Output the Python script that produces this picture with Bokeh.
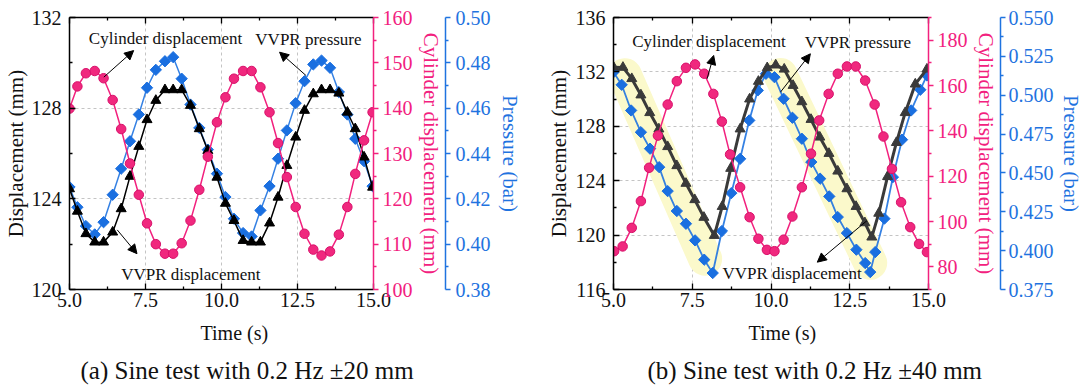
from bokeh.plotting import figure
from bokeh.models import Range1d, LinearAxis, FixedTicker, Label, Arrow, NormalHead, Title
from bokeh.layouts import row
from bokeh.embed import file_html
from bokeh.resources import INLINE

FONT = "Liberation Serif"
PINK = "#F2217E"
BLUE = "#1F73E0"
BAND = "#FBF9CB"

# ---------------- data: panel (a) 0.2 Hz +-20 mm ----------------
time_a = [5.00, 5.26, 5.54, 5.83, 6.12, 6.42, 6.70, 6.99, 7.28, 7.55, 7.84, 8.14,
          8.41, 8.69, 8.98, 9.27, 9.55, 9.85, 10.13, 10.41, 10.71, 10.99, 11.28, 11.58,
          11.86, 12.15, 12.44, 12.73, 13.02, 13.29, 13.57, 13.86, 14.14, 14.40, 14.69, 14.97]
cyl_a = [139.9, 144.8, 147.7, 148.2, 146.6, 141.8, 135.4, 127.8, 120.9, 114.6, 110.0, 107.9,
         107.9, 110.2, 115.2, 122.0, 129.3, 136.9, 142.4, 146.5, 148.2, 148.2, 144.6, 139.1,
         132.3, 124.8, 118.2, 112.3, 108.8, 107.5, 108.4, 112.1, 118.2, 125.5, 132.9, 139.1]
pres_a = [0.4252, 0.4163, 0.4080, 0.4043, 0.4097, 0.4218, 0.4333, 0.4454, 0.4572, 0.4690, 0.4769, 0.4807,
          0.4825, 0.4730, 0.4616, 0.4513, 0.4417, 0.4311, 0.4208, 0.4112, 0.4049, 0.4034, 0.4149, 0.4256,
          0.4377, 0.4502, 0.4622, 0.4719, 0.4793, 0.4810, 0.4778, 0.4671, 0.4572, 0.4465, 0.4366, 0.4256]
vvpr_a = [124.44, 123.45, 122.46, 122.09, 122.09, 122.53, 123.56, 124.99, 126.31, 127.49, 128.34, 128.81,
          128.81, 128.81, 128.12, 127.09, 126.13, 124.95, 123.80, 123.04, 122.16, 122.09, 122.09, 122.93,
          124.07, 125.47, 126.72, 127.90, 128.63, 128.81, 128.81, 128.66, 127.82, 127.09, 125.84, 124.51]

# ---------------- data: panel (b) 0.2 Hz +-40 mm ----------------
time_b_cyl = [5.02, 5.29, 5.58, 5.87, 6.13, 6.41, 6.72, 7.01, 7.30, 7.59, 7.88, 8.17,
              8.44, 8.70, 9.02, 9.32, 9.60, 9.87, 10.11, 10.40, 10.68, 10.98, 11.27, 11.53,
              11.83, 12.12, 12.41, 12.69, 12.99, 13.29, 13.57, 13.84, 14.13, 14.42, 14.70, 14.95]
cyl_b = [86.9, 89.0, 97.2, 109.0, 123.7, 137.9, 151.6, 161.9, 167.8, 169.3, 165.2, 156.3,
         144.1, 129.6, 115.1, 101.9, 92.4, 87.5, 86.9, 92.0, 102.2, 115.1, 129.9, 144.6,
         156.3, 165.2, 168.4, 168.4, 162.2, 151.6, 137.5, 123.2, 108.5, 97.5, 90.1, 86.5]
time_b_pres = [5.00, 5.26, 5.56, 5.87, 6.16, 6.45, 6.72, 7.01, 7.30, 7.59, 7.88, 8.15, 8.44,
               8.74, 9.02, 9.31, 9.58, 9.84, 10.11, 10.40, 10.68, 10.98, 11.28, 11.56, 11.85,
               12.12, 12.41, 12.71, 12.99, 13.15, 13.31, 13.60, 13.87, 14.16, 14.45, 14.74, 14.95]
pres_b = [0.5148, 0.5067, 0.4902, 0.4762, 0.4656, 0.4537, 0.4383, 0.4255, 0.4173, 0.4066, 0.3942, 0.3856, 0.4126,
          0.4370, 0.4591, 0.4838, 0.5031, 0.5138, 0.5116, 0.4977, 0.4855, 0.4720, 0.4570, 0.4463, 0.4349,
          0.4216, 0.4113, 0.4006, 0.3920, 0.3862, 0.3991, 0.4206, 0.4473, 0.4714, 0.4902, 0.5035, 0.5127]
time_b_vvpr = [5.00, 5.30, 5.58, 5.87, 6.15, 6.44, 6.72, 7.01, 7.30, 7.58, 7.87, 8.20,
               8.45, 8.72, 9.02, 9.32, 9.60, 9.88, 10.15, 10.42, 10.70, 10.98, 11.27, 11.55,
               11.84, 12.12, 12.41, 12.70, 12.98, 13.20, 13.42, 13.70, 13.98, 14.26, 14.58, 14.95]
vvpr_b = [132.35, 132.33, 131.5, 130.3, 129.0, 127.8, 126.5, 125.1, 123.8, 122.6, 121.3, 119.97,
          122.1, 124.9, 127.8, 130.0, 131.3, 132.3, 132.5, 132.2, 131.0, 129.8, 128.5, 127.2,
          126.0, 124.7, 123.4, 122.1, 120.9, 119.85, 121.6, 124.3, 126.8, 129.0, 131.1, 132.2]
band_b1_t = [5.36, 7.91]
band_b1_mm = [131.76, 118.26]
band_b2_t = [10.30, 13.15]
band_b2_mm = [131.78, 117.96]

# ---------------- ticks ----------------
x_ticks = [5.0, 7.5, 10.0, 12.5, 15.0]
x_minor = [6.25, 8.75, 11.25, 13.75]
x_tick_labels = ["5.0", "7.5", "10.0", "12.5", "15.0"]

left_ticks_a = [120, 124, 128, 132]
left_minor_a = [122, 126, 130]
left_labels_a = ["120", "124", "128", "132"]
pink_ticks_a = [100, 110, 120, 130, 140, 150, 160]
pink_minor_a = [105, 115, 125, 135, 145, 155]
pink_labels_a = ["100", "110", "120", "130", "140", "150", "160"]
blue_ticks_a = [0.38, 0.40, 0.42, 0.44, 0.46, 0.48, 0.50]
blue_minor_a = [0.39, 0.41, 0.43, 0.45, 0.47, 0.49]
blue_labels_a = ["0.38", "0.40", "0.42", "0.44", "0.46", "0.48", "0.50"]

left_ticks_b = [116, 120, 124, 128, 132, 136]
left_minor_b = [118, 122, 126, 130, 134]
left_labels_b = ["116", "120", "124", "128", "132", "136"]
pink_ticks_b = [80, 100, 120, 140, 160, 180]
pink_minor_b = [70, 90, 110, 130, 150, 170, 190]
pink_labels_b = ["80", "100", "120", "140", "160", "180"]
blue_ticks_b = [0.375, 0.400, 0.425, 0.450, 0.475, 0.500, 0.525, 0.550]
blue_minor_b = [0.3875, 0.4125, 0.4375, 0.4625, 0.4875, 0.5125, 0.5375]
blue_labels_b = ["0.375", "0.400", "0.425", "0.450", "0.475", "0.500", "0.525", "0.550"]


def style_axis(ax, color, inward, label_color=None, tick_size="20px", title_size="21px",
               standoff=5, title_standoff=3):
    ax.axis_line_color = color
    ax.axis_line_width = 1.5
    ax.major_tick_line_color = color
    ax.minor_tick_line_color = color
    ax.major_tick_line_width = 1.3
    ax.minor_tick_line_width = 1.3
    if inward:
        ax.major_tick_in, ax.major_tick_out = 6, 0
        ax.minor_tick_in, ax.minor_tick_out = 3, 0
    else:
        ax.major_tick_in, ax.major_tick_out = 0, 5
        ax.minor_tick_in, ax.minor_tick_out = 0, 3
    ax.major_label_text_font = FONT
    ax.major_label_text_font_size = tick_size
    ax.major_label_text_color = label_color or color
    ax.axis_label_text_font = FONT
    ax.axis_label_text_font_style = "normal"
    ax.axis_label_text_font_size = title_size
    ax.axis_label_text_color = label_color or color
    ax.major_label_standoff = standoff
    ax.axis_label_standoff = title_standoff


def make_panel(cfg):
    ylo, yhi = cfg["left_range"]
    p = figure(width=cfg["width"], height=388,
               x_range=Range1d(5.0, 15.0), y_range=Range1d(ylo, yhi),
               output_backend="svg", toolbar_location=None,
               min_border_left=cfg["mbl"], min_border_right=cfg["mbr"],
               min_border_top=17, min_border_bottom=99)
    p.outline_line_color = None
    p.background_fill_color = "white"
    p.border_fill_color = "white"
    p.extra_y_ranges = {"pink": Range1d(*cfg["pink_range"]), "blue": Range1d(*cfg["blue_range"])}

    # grids
    p.xgrid.ticker = FixedTicker(ticks=x_ticks)
    p.ygrid.ticker = FixedTicker(ticks=cfg["left_ticks"])
    for g in (p.xgrid[0], p.ygrid[0]):
        g.grid_line_color = "#C4C4C4"
        g.grid_line_dash = "3 3"
        g.grid_line_width = 1

    # bottom axis
    xa = p.xaxis[0]
    xa.ticker = FixedTicker(ticks=x_ticks, minor_ticks=x_minor)
    xa.major_label_overrides = dict(zip(x_ticks, x_tick_labels))
    style_axis(xa, "black", True, label_color="#111111", standoff=3)

    # top mirror axis
    top = LinearAxis(ticker=FixedTicker(ticks=x_ticks, minor_ticks=x_minor))
    style_axis(top, "black", True, standoff=0)
    top.major_label_text_font_size = "0px"
    top.major_label_text_color = None
    p.add_layout(top, "above")

    # left axis
    ya = p.yaxis[0]
    ya.ticker = FixedTicker(ticks=cfg["left_ticks"], minor_ticks=cfg["left_minor"])
    ya.major_label_overrides = dict(zip(cfg["left_ticks"], cfg["left_labels"]))
    ya.axis_label = "Displacement (mm)"
    style_axis(ya, "black", True, label_color="#111111", standoff=8, title_standoff=cfg["ltstand"])

    # pink axis
    pa = LinearAxis(y_range_name="pink", axis_label="Cylinder displacement (mm)",
                    ticker=FixedTicker(ticks=cfg["pink_ticks"], minor_ticks=cfg["pink_minor"]))
    pa.major_label_overrides = dict(zip(cfg["pink_ticks"], cfg["pink_labels"]))
    style_axis(pa, PINK, False, standoff=4, title_standoff=3)
    p.add_layout(pa, "right")

    # spacer between the two right axes
    sp = LinearAxis(y_range_name="pink", ticker=FixedTicker(ticks=[]))
    sp.axis_line_color = None
    sp.major_tick_line_color = None
    sp.minor_tick_line_color = None
    sp.major_tick_in = 0
    sp.major_tick_out = cfg["gap"]
    sp.major_label_standoff = 0
    sp.major_label_text_font_size = "0px"
    p.add_layout(sp, "right")

    # blue axis
    ba = LinearAxis(y_range_name="blue", axis_label="Pressure (bar)",
                    ticker=FixedTicker(ticks=cfg["blue_ticks"], minor_ticks=cfg["blue_minor"]))
    ba.major_label_overrides = dict(zip(cfg["blue_ticks"], cfg["blue_labels"]))
    style_axis(ba, BLUE, False, standoff=cfg["bstand"], title_standoff=cfg["btstand"])
    p.add_layout(ba, "right")

    # highlight bands
    for bt, bm in cfg["bands"]:
        p.line(bt, bm, line_width=34, line_cap="round", line_color=BAND)

    # series
    bx, by = cfg["pres"]
    p.line(bx, by, y_range_name="blue", line_color=BLUE, line_width=cfg["blue_lw"], alpha=0.9)
    p.scatter(bx, by, y_range_name="blue", marker="square", angle=0.785, size=8,
              fill_color="#1A6FE0", line_color="#1A6FE0")

    kx, ky = cfg["vvpr"]
    p.line(kx, ky, line_color=cfg["black"], line_width=cfg["black_lw"])
    p.scatter(kx, ky, marker="triangle", size=10, fill_color=cfg["black"], line_color=cfg["black"])

    cx, cy = cfg["cyl"]
    p.line(cx, cy, y_range_name="pink", line_color=PINK, line_width=1.5)
    p.scatter(cx, cy, y_range_name="pink", marker="circle", size=9.5,
              fill_color="#F0287E", line_color="#D8106A", line_width=1)

    # annotations
    for txt, (tx, ty), (x0, y0, x1, y1) in cfg["notes"]:
        p.add_layout(Label(x=tx, y=ty, text=txt, text_font=FONT, text_font_size="17px",
                           text_color="#111111", text_align="center", text_baseline="middle"))
        p.add_layout(Arrow(x_start=x0, y_start=y0, x_end=x1, y_end=y1, line_width=1, line_color="black",
                           end=NormalHead(size=9, fill_color="black", line_color="black", line_width=1)))

    # x-axis title and caption, stacked below the axis
    p.add_layout(Title(text="Time (s)", align="left", offset=cfg["xlab_off"], text_font=FONT,
                       text_font_size="20px", text_font_style="normal", text_color="#111111",
                       standoff=21), "below")
    p.add_layout(Title(text=cfg["caption"], align="left", offset=cfg["cap_off"], text_font=FONT,
                       text_font_size="25px", text_font_style="normal", text_color="#111111",
                       standoff=0), "below")
    return p


cfg_a = dict(
    width=540, mbl=67, mbr=167, gap=9, bstand=5, btstand=4, ltstand=1,
    left_range=(120, 132), pink_range=(100, 160), blue_range=(0.38, 0.50),
    left_ticks=left_ticks_a, left_minor=left_minor_a, left_labels=left_labels_a,
    pink_ticks=pink_ticks_a, pink_minor=pink_minor_a, pink_labels=pink_labels_a,
    blue_ticks=blue_ticks_a, blue_minor=blue_minor_a, blue_labels=blue_labels_a,
    bands=[], black="#000000", black_lw=1.5, blue_lw=1.5,
    cyl=(time_a, cyl_a), pres=(time_a, pres_a), vvpr=(time_a, vvpr_a),
    notes=[("Cylinder displacement", (8.16, 131.09), (6.13, 129.37, 7.11, 130.54)),
           ("VVPR pressure", (12.86, 131.02), (12.78, 129.44, 11.91, 130.47)),
           ("VVPR displacement", (8.99, 120.66), (6.57, 122.63, 7.22, 121.58))],
    xlab_off=131, cap_off=11,
    caption="(a) Sine test with 0.2 Hz \u00b120 mm",
)

cfg_b = dict(
    width=546, mbl=73, mbr=158, gap=7, bstand=3, btstand=2, ltstand=2,
    left_range=(116, 136), pink_range=(70, 190), blue_range=(0.375, 0.550),
    left_ticks=left_ticks_b, left_minor=left_minor_b, left_labels=left_labels_b,
    pink_ticks=pink_ticks_b, pink_minor=pink_minor_b, pink_labels=pink_labels_b,
    blue_ticks=blue_ticks_b, blue_minor=blue_minor_b, blue_labels=blue_labels_b,
    bands=[(band_b1_t, band_b1_mm), (band_b2_t, band_b2_mm)], black="#3A3A3A", black_lw=3, blue_lw=1.8,
    cyl=(time_b_cyl, cyl_b), pres=(time_b_pres, pres_b), vvpr=(time_b_vvpr, vvpr_b),
    notes=[("Cylinder displacement", (8.03, 134.26), (7.97, 131.49, 8.18, 133.21)),
           ("VVPR pressure", (12.76, 134.18), (10.30, 130.51, 11.25, 133.33)),
           ("VVPR displacement", (10.67, 117.20), (13.05, 121.07, 11.47, 118.01))],
    xlab_off=135, cap_off=34,
    caption="(b) Sine test with 0.2 Hz \u00b140 mm",
)

layout = row(make_panel(cfg_a), make_panel(cfg_b))
open("out.html", "w").write(file_html(layout, INLINE))
